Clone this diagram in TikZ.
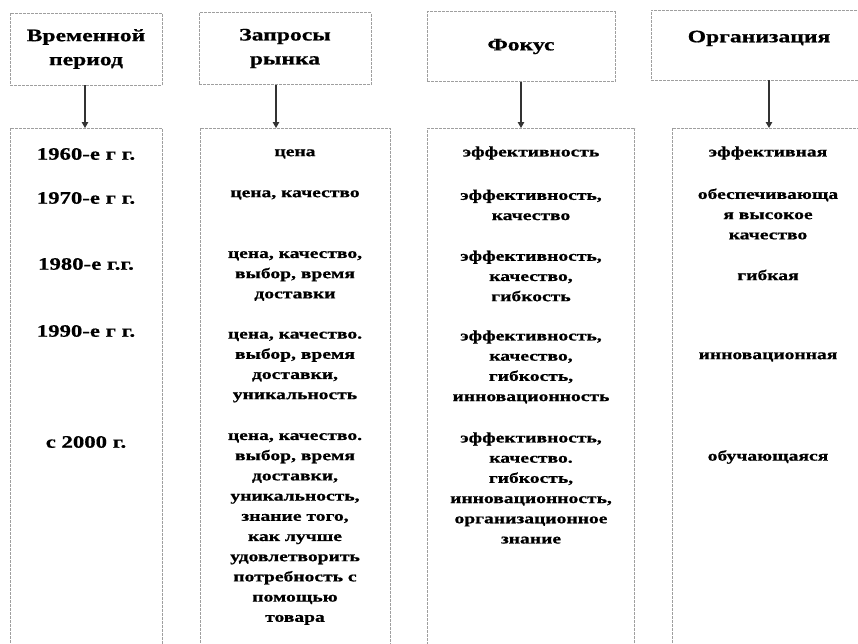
\documentclass[tikz,border=0pt]{standalone}
\usepackage{fontspec}
\setmainfont{Liberation Serif}
\newfontfamily\bodyfont[FakeStretch=1.35,BoldFeatures={FakeBold=0.8}]{Liberation Serif}
\newfontfamily\yearfont[FakeStretch=1.3,BoldFeatures={FakeBold=0.6}]{Liberation Serif}
\usetikzlibrary{arrows.meta}
\begin{document}
\begin{tikzpicture}[x=1pt,y=-1pt,
  frame/.style={draw=gray!75, line width=0.7pt, dash pattern=on 3pt off 1pt, inner sep=0pt},
  headbox/.style={frame, rectangle, align=center, font=\bodyfont\bfseries\fontsize{17.5}{24}\selectfont},
  colbox/.style={frame, rectangle, anchor=north, minimum height=540pt},
  celltext/.style={align=center, inner sep=0pt, font=\bodyfont\bfseries\fontsize{14.5}{20.2}\selectfont},
  yeartext/.style={align=center, inner sep=0pt, font=\yearfont\bfseries\fontsize{17.5}{20}\selectfont},
  arr/.style={draw=black!80, line width=1.1pt, -{Triangle[length=6pt,width=6.5pt]}}
]
\clip (0,0) rectangle (858,643);
% header boxes
\node[headbox, minimum width=152pt, minimum height=72pt] (h1) at (86,49) {Временной\\период};
\node[headbox, minimum width=172pt, minimum height=72pt] (h2) at (285,48.5) {Запросы\\рынка};
\node[headbox, minimum width=188pt, minimum height=70pt] (h3) at (521,46.5) {\raisebox{-2pt}{Фокус}};
\node[headbox, minimum width=216pt, minimum height=70pt] (h4) at (759,45) {\raisebox{17pt}{Организация}};
% columns
\node[colbox, minimum width=152pt] (c1) at (86,128) {};
\node[colbox, minimum width=190pt] (c2) at (295,128) {};
\node[colbox, minimum width=207pt] (c3) at (531,128) {};
\node[colbox, minimum width=200pt] (c4) at (772,128) {};
% arrow positions
\coordinate (a1) at (85,0);
\coordinate (a2) at (276,0);
\coordinate (a3) at (521,0);
\coordinate (a4) at (769,0);
\draw[arr] (h1.south -| a1) -- (c1.north -| a1);
\draw[arr] (h2.south -| a2) -- (c2.north -| a2);
\draw[arr] (h3.south -| a3) -- (c3.north -| a3);
\draw[arr] (h4.south -| a4) -- (c4.north -| a4);
% column 1
\node[yeartext] (y1) at (86,154) {1960-е г г.};
\node[yeartext] (y2) at (86,198) {1970-е г г.};
\node[yeartext] (y3) at (86,264) {1980-е г.г.};
\node[yeartext] (y4) at (86,331) {1990-е г г.};
\node[yeartext] (y5) at (86,442) {с 2000 г.};
% column 2
\node[celltext] (m1) at (295,154) {цена};
\node[celltext] (m2) at (295,195) {цена, качество};
\node[celltext] (m3) at (295,276) {цена, качество,\\выбор, время\\доставки};
\node[celltext] (m4) at (295,367) {цена, качество.\\выбор, время\\доставки,\\уникальность};
\node[celltext] (m5) at (295,529) {цена, качество.\\выбор, время\\доставки,\\уникальность,\\знание того,\\как лучше\\удовлетворить\\потребность с\\помощью\\товара};
% column 3
\node[celltext] (f1) at (531,153) {эффективность};
\node[celltext] (f2) at (531,205) {эффективность,\\качество};
\node[celltext] (f3) at (531,276) {эффективность,\\качество,\\гибкость};
\node[celltext] (f4) at (531,367) {эффективность,\\качество,\\гибкость,\\инновационность};
\node[celltext] (f5) at (531,488) {эффективность,\\качество.\\гибкость,\\инновационность,\\организационное\\знание};
% column 4
\node[celltext] (o1) at (768,153) {эффективная};
\node[celltext] (o2) at (768,214) {обеспечивающа\\я высокое\\качество};
\node[celltext] (o3) at (768,275) {гибкая};
\node[celltext] (o4) at (768,357) {инновационная};
\node[celltext] (o5) at (768,457) {обучающаяся};
\end{tikzpicture}
\end{document}
